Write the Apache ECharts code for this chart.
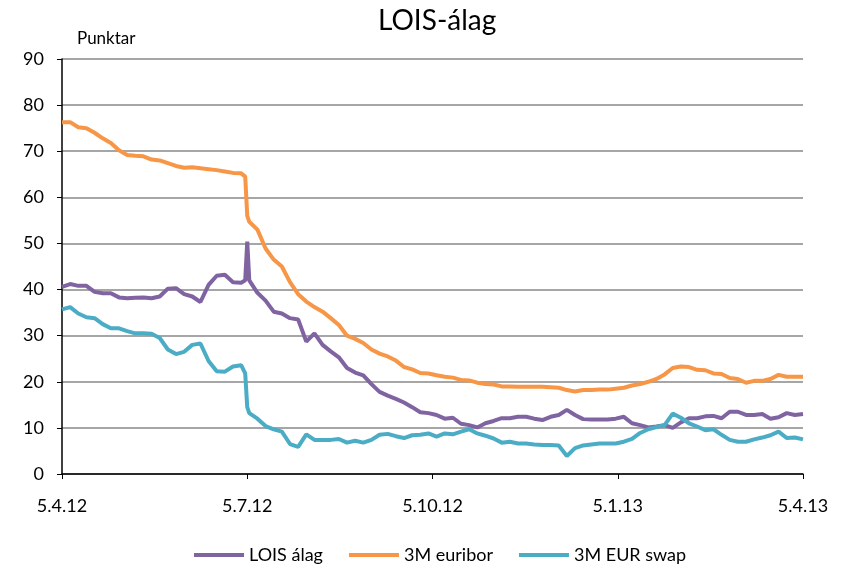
<!DOCTYPE html>
<html>
<head>
<meta charset="utf-8">
<script src="https://cdn.jsdelivr.net/npm/echarts@6/dist/echarts.min.js"></script>
<style>
  html, body { margin: 0; padding: 0; background: #fff; }
  #main { width: 849px; height: 570px; }
</style>
</head>
<body>
<div id="main"></div>
<script>
// dagar frá 5.4.12
var days = [0,4,8,12,16,20,24,28,32,36,40,44,48,52,56,60,64,68,72,76,80,84,88,90,91,92,96,100,104,108,112,116,120,124,128,132,136,140,144,148,152,156,160,164,168,172,176,180,184,188,192,196,200,204,208,212,216,220,224,228,232,236,240,244,248,252,256,260,264,268,272,276,280,284,288,292,296,300,304,308,312,316,320,324,328,332,336,340,344,348,352,356,360,364];

var lois = [40.6,41.2,40.8,40.8,39.5,39.2,39.2,38.3,38.1,38.2,38.3,38.1,38.5,40.2,40.3,39.0,38.5,37.3,41.0,43.0,43.2,41.6,41.5,
  42.0,50.4,
  42.0,39.3,37.6,35.2,34.8,33.8,33.5,28.7,30.5,28.0,26.6,25.3,23.0,22.0,21.4,19.5,17.8,17.0,16.3,15.5,14.5,13.4,13.2,12.8,12.0,12.2,10.9,10.6,10.1,11.0,11.5,12.1,12.1,12.4,12.4,12.0,11.7,12.4,12.8,13.9,12.8,11.9,11.8,11.8,11.8,12.0,12.4,11.0,10.6,10.1,10.3,10.6,10.0,11.2,12.1,12.1,12.5,12.6,12.1,13.5,13.5,12.8,12.8,13.0,12.0,12.3,13.2,12.8,13.0];

var euribor = [76.3,76.3,75.2,75.0,74.0,72.8,71.8,70.2,69.2,69.0,68.9,68.2,68.0,67.4,66.8,66.4,66.5,66.3,66.1,65.9,65.6,65.3,65.2,
  64.5,56.0,
  54.7,53.0,48.9,46.5,45.0,41.6,39.0,37.4,36.2,35.2,33.8,32.3,30.0,29.3,28.4,27.0,26.1,25.5,24.6,23.2,22.7,21.9,21.8,21.4,21.1,20.9,20.4,20.3,19.8,19.5,19.4,19.0,19.0,18.9,18.9,18.9,18.9,18.8,18.7,18.2,17.9,18.2,18.2,18.3,18.3,18.5,18.7,19.2,19.5,20.0,20.6,21.6,23.0,23.3,23.2,22.6,22.5,21.8,21.7,20.8,20.6,19.8,20.2,20.2,20.6,21.5,21.1,21.1,21.1];

var swap = [35.7,36.2,34.8,34.0,33.8,32.5,31.6,31.6,31.0,30.5,30.5,30.4,29.5,27.0,26.0,26.5,28.0,28.3,24.5,22.3,22.2,23.3,23.6,
  21.8,14.5,
  13.2,12.0,10.4,9.7,9.2,6.5,5.9,8.6,7.4,7.4,7.4,7.6,6.8,7.2,6.8,7.4,8.5,8.7,8.2,7.8,8.4,8.5,8.8,8.1,8.8,8.6,9.2,9.7,8.8,8.3,7.7,6.8,7.0,6.6,6.6,6.4,6.3,6.3,6.2,3.9,5.6,6.2,6.4,6.6,6.6,6.6,7.0,7.6,8.9,9.7,10.2,10.6,13.1,12.2,11.0,10.3,9.5,9.7,8.5,7.4,7.0,7.0,7.5,7.9,8.4,9.2,7.8,7.9,7.5];

var tickLabels = ['5.4.12', '5.7.12', '5.10.12', '5.1.13', '5.4.13'];

function pairs(vals) {
  return days.map(function (d, i) { return [d, vals[i]]; });
}

var font = 'Lato, "Open Sans", sans-serif';

var option = {
  animation: false,
  textStyle: { fontFamily: font },
  title: {
    text: 'LOIS-álag',
    left: 373,
    top: 2,
    textStyle: { fontFamily: font, fontSize: 28, fontWeight: 'normal', color: '#000' }
  },
  legend: {
    bottom: 1,
    left: 189,
    itemWidth: 50,
    itemHeight: 4,
    itemGap: 26,
    icon: 'rect',
    textStyle: { fontFamily: font, fontSize: 18, color: '#000' },
    data: ['LOIS álag', '3M euribor', '3M EUR swap']
  },
  grid: { left: 62, right: 46, top: 59, bottom: 96, containLabel: false },
  xAxis: {
    type: 'value',
    min: 0,
    max: 364,
    interval: 91,
    axisLine: { lineStyle: { color: '#000', width: 1.5 } },
    axisTick: { show: true, length: 5, lineStyle: { color: '#000' } },
    splitLine: { show: false },
    axisLabel: {
      fontFamily: font, fontSize: 18, color: '#000', margin: 23,
      formatter: function (v) { return tickLabels[Math.round(v / 91)]; }
    }
  },
  yAxis: {
    type: 'value',
    min: 0,
    max: 90,
    interval: 10,
    name: 'Punktar',
    nameLocation: 'end',
    nameGap: 12,
    nameTextStyle: { fontFamily: font, fontSize: 17, color: '#000', align: 'left', padding: [0, 0, 0, 15] },
    axisLine: { show: true, lineStyle: { color: '#000', width: 1.5 } },
    axisTick: { show: true, length: 5, lineStyle: { color: '#000' } },
    splitLine: { lineStyle: { color: '#a6a6a6', width: 2 } },
    axisLabel: { fontFamily: font, fontSize: 18, color: '#000', margin: 18 }
  },
  series: [
    { name: 'LOIS álag', type: 'line', data: pairs(lois), showSymbol: false,
      lineStyle: { color: '#8064a2', width: 4 }, itemStyle: { color: '#8064a2' }, z: 3 },
    { name: '3M euribor', type: 'line', data: pairs(euribor), showSymbol: false,
      lineStyle: { color: '#f79646', width: 4 }, itemStyle: { color: '#f79646' }, z: 2 },
    { name: '3M EUR swap', type: 'line', data: pairs(swap), showSymbol: false,
      lineStyle: { color: '#4bacc6', width: 4 }, itemStyle: { color: '#4bacc6' }, z: 4 }
  ]
};

var myChart = echarts.init(document.getElementById('main'));
myChart.setOption(option);
</script>
</body>
</html>
